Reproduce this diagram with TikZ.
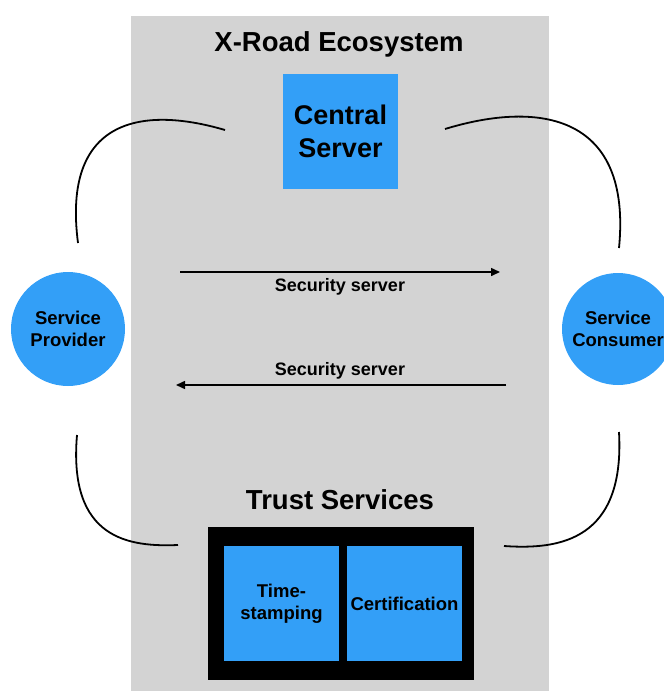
\documentclass[tikz,border=0pt]{standalone}
\usepackage{fontspec}
\setmainfont{Liberation Sans}
\usetikzlibrary{arrows.meta}
\definecolor{bgray}{HTML}{D3D3D3}
\definecolor{sblue}{HTML}{339FF7}
\begin{document}
\begin{tikzpicture}[x=1pt,y=-1pt,
  title/.style={font=\bfseries\fontsize{27.5}{30}\selectfont, inner sep=0},
  boxtext/.style={font=\bfseries\fontsize{27}{33}\selectfont, align=center},
  small/.style={font=\bfseries\fontsize{18.5}{22}\selectfont, align=center},
  lbl/.style={font=\bfseries\fontsize{18}{20}\selectfont, inner sep=0},
  curve/.style={line width=1.8pt},
  arr/.style={line width=1.5pt, -{Triangle[length=9pt,width=8pt]}}]
\useasboundingbox (0,0) rectangle (664,691);
\fill[bgray] (131,16) rectangle (549,691);
\node[title] (eco) at (339,44) {X-Road Ecosystem};
\node[fill=sblue, minimum width=115pt, minimum height=115pt, boxtext] (cs) at (340.5,131) {Central\\Server};
\node[circle, fill=sblue, minimum size=114pt, inner sep=0, small] (sp) at (68,329) {Service\\Provider};
\node[circle, fill=sblue, minimum size=112pt, inner sep=0, small] (sc) at (618,329) {Service\\Consumer};
% arrows
\coordinate (a1s) at (180,272); \coordinate (a1e) at (500,272);
\coordinate (a2s) at (506,385); \coordinate (a2e) at (176,385);
\draw[arr] (a1s) -- (a1e);
\draw[arr] (a2s) -- (a2e);
\node[lbl] (l1) at (340,287) {Security server};
\node[lbl] (l2) at (340,371) {Security server};
% curves
\coordinate (c1a) at (225,130); \coordinate (c1b) at (78,243);
\coordinate (c2a) at (445,129); \coordinate (c2b) at (619,248);
\coordinate (c3a) at (77,435); \coordinate (c3b) at (178,545);
\coordinate (c4a) at (619,432); \coordinate (c4b) at (504,546);
\draw[curve] (c1a) .. controls (140,105) and (62,120) .. (c1b);
\draw[curve] (c2a) .. controls (540,100) and (632,115) .. (c2b);
\draw[curve] (c3a) .. controls (68,540) and (130,547) .. (c3b);
\draw[curve] (c4a) .. controls (625,540) and (560,550) .. (c4b);
% trust services
\node[title] (ts) at (340,500) {Trust Services};
\fill[black] (208,527) rectangle (474,680);
\node[fill=sblue, minimum width=115pt, minimum height=115pt, small] (tst) at (281.5,603.5) {Time-\\stamping};
\node[fill=sblue, minimum width=115pt, minimum height=115pt, small] (cert) at (404.5,603.5) {Certification};
\end{tikzpicture}
\end{document}
